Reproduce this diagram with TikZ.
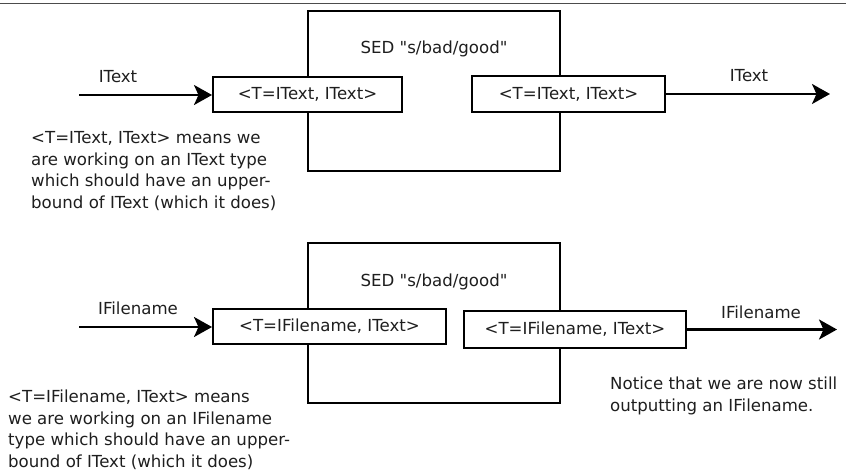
\documentclass[tikz,border=0pt]{standalone}
\usepackage{fontspec}
\setmainfont{DejaVu Sans}[Ligatures=TeXOff]
\usetikzlibrary{arrows.meta}
\definecolor{txt}{HTML}{1E1E1E}
\newcommand\diafont{\fontsize{16.6bp}{21.7bp}\selectfont}
\begin{document}
\begin{tikzpicture}[x=1bp,y=-1bp,
  bigbox/.style={draw, line width=2bp, minimum width=252bp, minimum height=160bp, inner sep=0pt},
  portbox/.style={draw, line width=2bp, fill=white, inner sep=0pt, font=\diafont, text=txt},
  lbl/.style={inner sep=0pt, font=\diafont, text=txt},
  arr/.style={line width=2.4bp, -{Stealth[length=18bp, width=20bp, inset=4.5bp]}}]
\useasboundingbox (0,0) rectangle (846,472);
\draw[line width=1.6bp, black!70] (0,3.6) -- (846,3.6);

% ---------- top section ----------
\node[bigbox] (sed1) at (434,91) {};
\node[lbl, anchor=base] (sedl1) at (434,54) {SED "s/bad/good"};
\node[portbox, minimum width=189bp, minimum height=35bp] (in1) at (307.5,94.5) {<T=IText, IText>};
\node[portbox, minimum width=193bp, minimum height=36bp] (out1) at (568.5,94) {<T=IText, IText>};
\coordinate (s1) at (79,95);
\coordinate (t1) at (830,94);
\draw[arr] (s1) -- (s1 -| in1.west);
\draw[arr] (out1.east) -- (t1);
\node[lbl, anchor=base] (il1) at (118,83) {IText};
\node[lbl, anchor=base] (ol1) at (749,82) {IText};
\node[lbl, anchor=base west] (note1) at (31,143.5) {\begin{tabular}[t]{@{}l@{}}<T=IText, IText> means we\\are working on an IText type\\which should have an upper-\\bound of IText (which it does)\end{tabular}};

% ---------- bottom section ----------
\node[bigbox] (sed2) at (434,323) {};
\node[lbl, anchor=base] (sedl2) at (434,287) {SED "s/bad/good"};
\node[portbox, minimum width=233bp, minimum height=35bp] (in2) at (329.5,326.5) {<T=IFilename, IText>};
\node[portbox, minimum width=222bp, minimum height=37bp] (out2) at (575,329.5) {<T=IFilename, IText>};
\coordinate (s2) at (79,327);
\coordinate (t2) at (837,329.5);
\draw[arr] (s2) -- (s2 -| in2.west);
\draw[arr] (out2.east) -- (t2);
\node[lbl, anchor=base] (il2) at (138,315) {IFilename};
\node[lbl, anchor=base] (ol2) at (761,319) {IFilename};
\node[lbl, anchor=base west] (note2) at (8,402.5) {\begin{tabular}[t]{@{}l@{}}<T=IFilename, IText> means\\we are working on an IFilename\\type which should have an upper-\\bound of IText (which it does)\end{tabular}};
\node[lbl, anchor=base west] (note3) at (610,389.5) {\begin{tabular}[t]{@{}l@{}}Notice that we are now still\\outputting an IFilename.\end{tabular}};
\end{tikzpicture}
\end{document}
